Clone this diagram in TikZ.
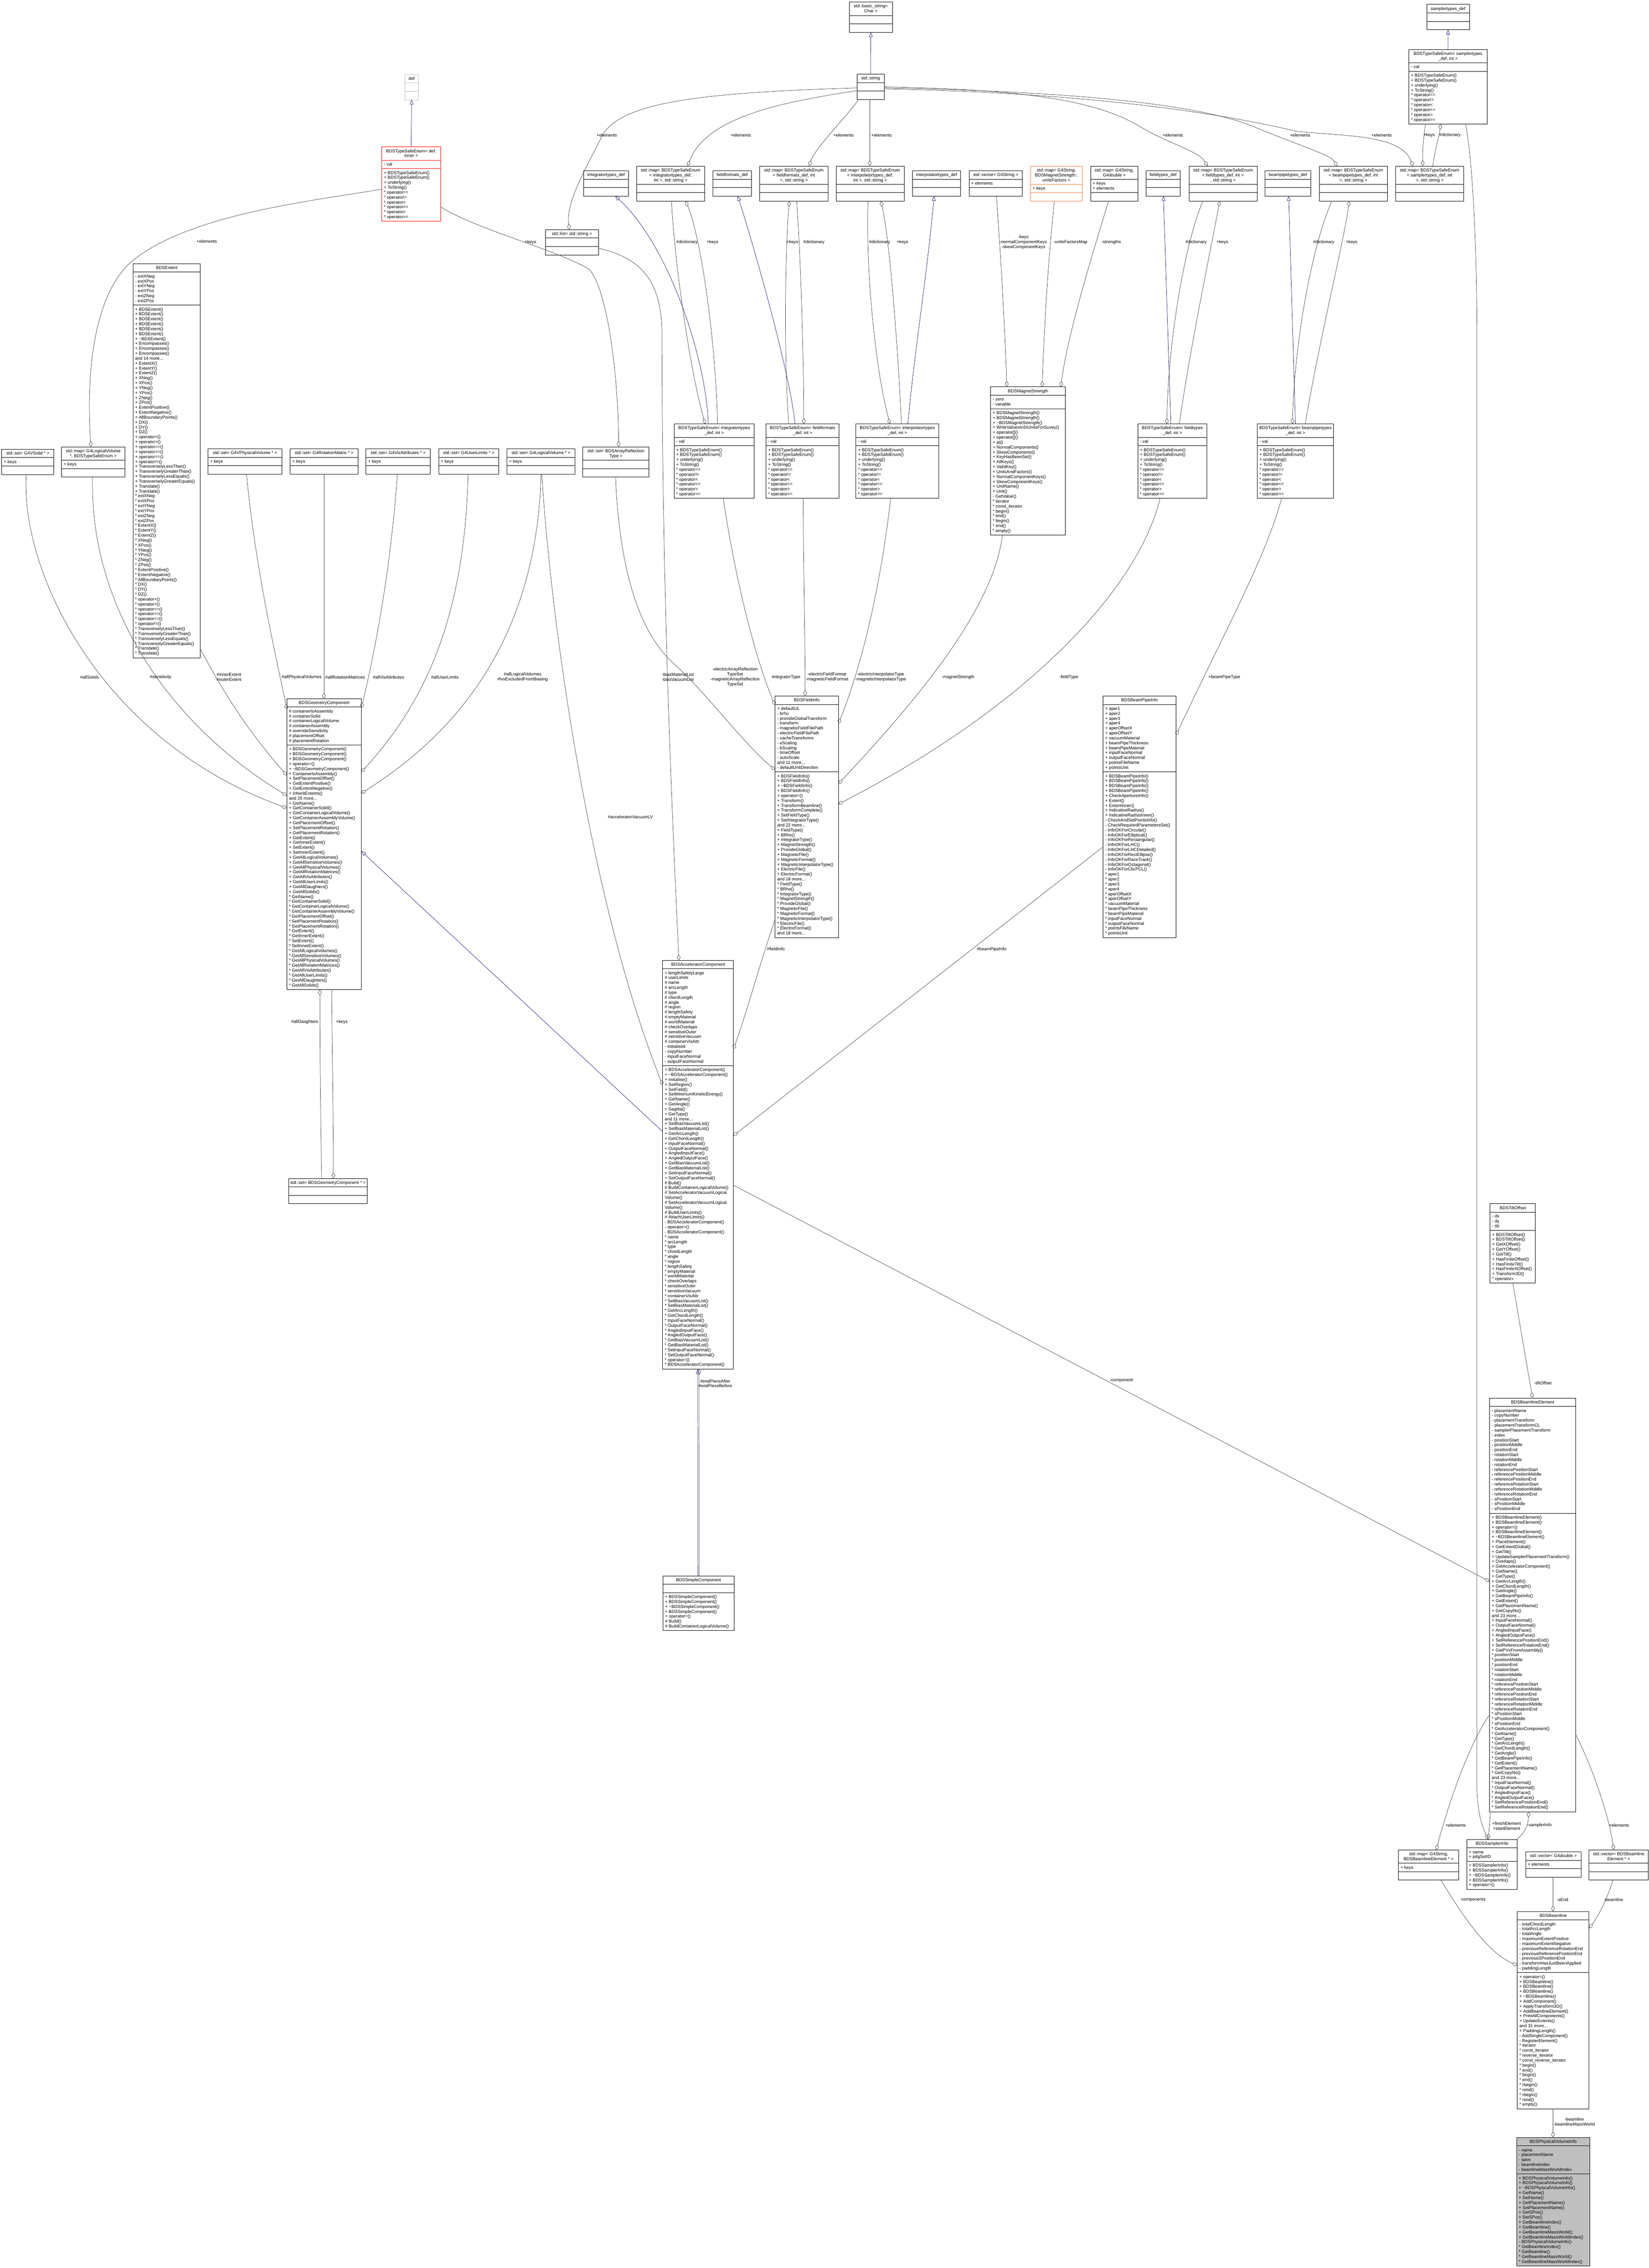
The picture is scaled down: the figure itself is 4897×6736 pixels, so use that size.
\documentclass[tikz,border=0pt]{standalone}
\usepackage{fontspec}
\setmainfont{Liberation Sans}
\usetikzlibrary{arrows.meta,calc}
\definecolor{edgegray}{HTML}{404040}
\definecolor{inhblue}{HTML}{191970}
\definecolor{graybox}{HTML}{BFBFBF}
\definecolor{orangebox}{HTML}{FF7A45}
\newcommand\clsfont{\fontsize{13}{14.6}\selectfont}
\newcommand\fstrut{\rule{0pt}{12pt}}
\def\parsecounts#1/#2/#3\relax{\def\nT{#1}\def\nA{#2}\def\nM{#3}}
\newcommand{\ucls}[9][]{%
  \parsecounts#6\relax
  \pgfmathsetmacro\hT{max(\nT,1)*14.6+10.5}%
  \pgfmathsetmacro\hA{max(\nA,1)*14.6+10.5}%
  \pgfmathsetmacro\hM{max(\nM,1)*14.6+10.5}%
  \pgfmathsetmacro\hTot{\hT+\hA+\hM}%
  \pgfmathsetmacro\hTA{\hT+\hA}%
  \node[clsbox,#1,minimum width=#5pt,minimum height=\hTot pt,anchor=north west] (#2) at (#3,#4) {};
  \draw[clsline,#1] ($(#2.north west)+(0,\hT)$) -- ($(#2.north east)+(0,\hT)$);
  \draw[clsline,#1] ($(#2.north west)+(0,\hTA)$) -- ($(#2.north east)+(0,\hTA)$);
  \node[clstitle,anchor=north] (#2-t) at ($(#2.north)+(0,4.5)$) {\fstrut#7};
  \if\relax\detokenize{#8}\relax\else
    \node[clstext,anchor=north west] (#2-a) at ($(#2.north west)+(6,\hT+4.5)$) {\fstrut#8};\fi
  \if\relax\detokenize{#9}\relax\else
    \node[clstext,anchor=north west] (#2-m) at ($(#2.north west)+(6,\hTA+4.5)$) {\fstrut#9};\fi
}
\newcommand\tsem{+ BDSTypeSafeEnum()\\+ BDSTypeSafeEnum()\\+ underlying()\\+ ToString()\\{}* operator==\\{}* operator!=\\{}* operator<\\{}* operator<=\\{}* operator>\\{}* operator>=}
\newcommand\extm{+ BDSExtent()\\+ BDSExtent()\\+ BDSExtent()\\+ BDSExtent()\\+ BDSExtent()\\+ BDSExtent()\\+ \textasciitilde BDSExtent()\\+ Encompasses()\\+ Encompasses()\\+ Encompasses()\\and 14 more...\\+ ExtentX()\\+ ExtentY()\\+ ExtentZ()\\+ XNeg()\\+ XPos()\\+ YNeg()\\+ YPos()\\+ ZNeg()\\+ ZPos()\\+ ExtentPositive()\\+ ExtentNegative()\\+ AllBoundaryPoints()\\+ DX()\\+ DY()\\+ DZ()\\+ operator<()\\+ operator>()\\+ operator<=()\\+ operator>=()\\+ operator==()\\+ operator!=()\\+ TransverselyLessThan()\\+ TransverselyGreaterThan()\\+ TransverselyLessEquals()\\+ TransverselyGreaterEquals()\\+ Translate()\\+ Translate()\\{}* extXNeg\\{}* extXPos\\{}* extYNeg\\{}* extYPos\\{}* extZNeg\\{}* extZPos\\{}* ExtentX()\\{}* ExtentY()\\{}* ExtentZ()\\{}* XNeg()\\{}* XPos()\\{}* YNeg()\\{}* YPos()\\{}* ZNeg()\\{}* ZPos()\\{}* ExtentPositive()\\{}* ExtentNegative()\\{}* AllBoundaryPoints()\\{}* DX()\\{}* DY()\\{}* DZ()\\{}* operator<()\\{}* operator>()\\{}* operator<=()\\{}* operator>=()\\{}* operator==()\\{}* operator!=()\\{}* TransverselyLessThan()\\{}* TransverselyGreaterThan()\\{}* TransverselyLessEquals()\\{}* TransverselyGreaterEquals()\\{}* Translate()\\{}* Translate()}
\newcommand\magm{+ BDSMagnetStrength()\\+ BDSMagnetStrength()\\+ \textasciitilde BDSMagnetStrength()\\+ WriteValuesInSIUnitsForSuvey()\\+ operator[]()\\+ operator[]()\\+ at()\\+ NormalComponents()\\+ SkewComponents()\\+ KeyHasBeenSet()\\+ AllKeys()\\+ ValidKey()\\+ UnitsAndFactors()\\+ NormalComponentKeys()\\+ SkewComponentKeys()\\+ UnitName()\\+ Unit()\\- GetValue()\\{}* iterator\\{}* const\_iterator\\{}* begin()\\{}* end()\\{}* begin()\\{}* end()\\{}* empty()}
\newcommand\fia{+ defaultUL\\- brho\\- provideGlobalTransform\\- transform\\- magneticFieldFilePath\\- electricFieldFilePath\\- cacheTransforms\\- eScaling\\- bScaling\\- timeOffset\\- autoScale\\and 11 more...\\- defaultUnitDirection}
\newcommand\fim{+ BDSFieldInfo()\\+ BDSFieldInfo()\\+ \textasciitilde BDSFieldInfo()\\+ BDSFieldInfo()\\+ operator=()\\+ Transform()\\+ TransformBeamline()\\+ TransformComplete()\\+ SetFieldType()\\+ SetIntegratorType()\\and 22 more...\\+ FieldType()\\+ BRho()\\+ IntegratorType()\\+ MagnetStrength()\\+ ProvideGlobal()\\+ MagneticFile()\\+ MagneticFormat()\\+ MagneticInterpolatorType()\\+ ElectricFile()\\+ ElectricFormat()\\and 18 more...\\{}* FieldType()\\{}* BRho()\\{}* IntegratorType()\\{}* MagnetStrength()\\{}* ProvideGlobal()\\{}* MagneticFile()\\{}* MagneticFormat()\\{}* MagneticInterpolatorType()\\{}* ElectricFile()\\{}* ElectricFormat()\\and 18 more...}
\newcommand\acca{+ lengthSafetyLarge\\\# userLimits\\\# name\\\# arcLength\\\# type\\\# chordLength\\\# angle\\\# region\\\# lengthSafety\\\# emptyMaterial\\\# worldMaterial\\\# checkOverlaps\\\# sensitiveOuter\\\# sensitiveVacuum\\\# containerVisAttr\\- initialised\\- copyNumber\\- inputFaceNormal\\- outputFaceNormal}
\newcommand\accm{+ BDSAcceleratorComponent()\\+ \textasciitilde BDSAcceleratorComponent()\\+ Initialise()\\+ SetRegion()\\+ SetField()\\+ SetMinimumKineticEnergy()\\+ GetName()\\+ GetAngle()\\+ Sagitta()\\+ GetType()\\and 11 more...\\+ SetBiasVacuumList()\\+ SetBiasMaterialList()\\+ GetArcLength()\\+ GetChordLength()\\+ InputFaceNormal()\\+ OutputFaceNormal()\\+ AngledInputFace()\\+ AngledOutputFace()\\+ GetBiasVacuumList()\\+ GetBiasMaterialList()\\+ SetInputFaceNormal()\\+ SetOutputFaceNormal()\\\# Build()\\\# BuildContainerLogicalVolume()\\\# SetAcceleratorVacuumLogical\\Volume()\\\# SetAcceleratorVacuumLogical\\Volume()\\\# BuildUserLimits()\\\# AttachUserLimits()\\- BDSAcceleratorComponent()\\- operator=()\\- BDSAcceleratorComponent()\\{}* name\\{}* arcLength\\{}* type\\{}* chordLength\\{}* angle\\{}* region\\{}* lengthSafety\\{}* emptyMaterial\\{}* worldMaterial\\{}* checkOverlaps\\{}* sensitiveOuter\\{}* sensitiveVacuum\\{}* containerVisAttr\\{}* SetBiasVacuumList()\\{}* SetBiasMaterialList()\\{}* GetArcLength()\\{}* GetChordLength()\\{}* InputFaceNormal()\\{}* OutputFaceNormal()\\{}* AngledInputFace()\\{}* AngledOutputFace()\\{}* GetBiasVacuumList()\\{}* GetBiasMaterialList()\\{}* SetInputFaceNormal()\\{}* SetOutputFaceNormal()\\{}* operator=()\\{}* BDSAcceleratorComponent()}
\newcommand\bpia{+ aper1\\+ aper2\\+ aper3\\+ aper4\\+ aperOffsetX\\+ aperOffsetY\\+ vacuumMaterial\\+ beamPipeThickness\\+ beamPipeMaterial\\+ inputFaceNormal\\+ outputFaceNormal\\+ pointsFileName\\+ pointsUnit}
\newcommand\bpim{+ BDSBeamPipeInfo()\\+ BDSBeamPipeInfo()\\+ BDSBeamPipeInfo()\\+ BDSBeamPipeInfo()\\+ CheckApertureInfo()\\+ Extent()\\+ ExtentInner()\\+ IndicativeRadius()\\+ IndicativeRadiusInner()\\- CheckAndSetPointsInfo()\\- CheckRequiredParametersSet()\\- InfoOKForCircular()\\- InfoOKForElliptical()\\- InfoOKForRectangular()\\- InfoOKForLHC()\\- InfoOKForLHCDetailed()\\- InfoOKForRectEllipse()\\- InfoOKForRaceTrack()\\- InfoOKForOctagonal()\\- InfoOKForClicPCL()\\{}* aper1\\{}* aper2\\{}* aper3\\{}* aper4\\{}* aperOffsetX\\{}* aperOffsetY\\{}* vacuumMaterial\\{}* beamPipeThickness\\{}* beamPipeMaterial\\{}* inputFaceNormal\\{}* outputFaceNormal\\{}* pointsFileName\\{}* pointsUnit}
\newcommand\geoa{\# containerIsAssembly\\\# containerSolid\\\# containerLogicalVolume\\\# containerAssembly\\\# overrideSensitivity\\\# placementOffset\\\# placementRotation}
\newcommand\geom{+ BDSGeometryComponent()\\+ BDSGeometryComponent()\\+ BDSGeometryComponent()\\+ operator=()\\+ \textasciitilde BDSGeometryComponent()\\+ ContainerIsAssembly()\\+ SetPlacementOffset()\\+ GetExtentPositive()\\+ GetExtentNegative()\\+ InheritExtents()\\and 25 more...\\+ GetName()\\+ GetContainerSolid()\\+ GetContainerLogicalVolume()\\+ GetContainerAssemblyVolume()\\+ GetPlacementOffset()\\+ SetPlacementRotation()\\+ GetPlacementRotation()\\+ GetExtent()\\+ GetInnerExtent()\\+ SetExtent()\\+ SetInnerExtent()\\+ GetAllLogicalVolumes()\\+ GetAllSensitiveVolumes()\\+ GetAllPhysicalVolumes()\\+ GetAllRotationMatrices()\\+ GetAllVisAttributes()\\+ GetAllUserLimits()\\+ GetAllDaughters()\\+ GetAllSolids()\\{}* GetName()\\{}* GetContainerSolid()\\{}* GetContainerLogicalVolume()\\{}* GetContainerAssemblyVolume()\\{}* GetPlacementOffset()\\{}* SetPlacementRotation()\\{}* GetPlacementRotation()\\{}* GetExtent()\\{}* GetInnerExtent()\\{}* SetExtent()\\{}* SetInnerExtent()\\{}* GetAllLogicalVolumes()\\{}* GetAllSensitiveVolumes()\\{}* GetAllPhysicalVolumes()\\{}* GetAllRotationMatrices()\\{}* GetAllVisAttributes()\\{}* GetAllUserLimits()\\{}* GetAllDaughters()\\{}* GetAllSolids()}
\newcommand\blea{- placementName\\- copyNumber\\- placementTransform\\- placementTransformCL\\- samplerPlacementTransform\\- index\\- positionStart\\- positionMiddle\\- positionEnd\\- rotationStart\\- rotationMiddle\\- rotationEnd\\- referencePositionStart\\- referencePositionMiddle\\- referencePositionEnd\\- referenceRotationStart\\- referenceRotationMiddle\\- referenceRotationEnd\\- sPositionStart\\- sPositionMiddle\\- sPositionEnd}
\newcommand\blem{+ BDSBeamlineElement()\\+ BDSBeamlineElement()\\+ operator=()\\+ BDSBeamlineElement()\\+ \textasciitilde BDSBeamlineElement()\\+ PlaceElement()\\+ GetExtentGlobal()\\+ GetTilt()\\+ UpdateSamplerPlacementTransform()\\+ Overlaps()\\+ GetAcceleratorComponent()\\+ GetName()\\+ GetType()\\+ GetArcLength()\\+ GetChordLength()\\+ GetAngle()\\+ GetBeamPipeInfo()\\+ GetExtent()\\+ GetPlacementName()\\+ GetCopyNo()\\and 23 more...\\+ InputFaceNormal()\\+ OutputFaceNormal()\\+ AngledInputFace()\\+ AngledOutputFace()\\+ SetReferencePositionEnd()\\+ SetReferenceRotationEnd()\\+ GetPVsFromAssembly()\\{}* positionStart\\{}* positionMiddle\\{}* positionEnd\\{}* rotationStart\\{}* rotationMiddle\\{}* rotationEnd\\{}* referencePositionStart\\{}* referencePositionMiddle\\{}* referencePositionEnd\\{}* referenceRotationStart\\{}* referenceRotationMiddle\\{}* referenceRotationEnd\\{}* sPositionStart\\{}* sPositionMiddle\\{}* sPositionEnd\\{}* GetAcceleratorComponent()\\{}* GetName()\\{}* GetType()\\{}* GetArcLength()\\{}* GetChordLength()\\{}* GetAngle()\\{}* GetBeamPipeInfo()\\{}* GetExtent()\\{}* GetPlacementName()\\{}* GetCopyNo()\\and 23 more...\\{}* InputFaceNormal()\\{}* OutputFaceNormal()\\{}* AngledInputFace()\\{}* AngledOutputFace()\\{}* SetReferencePositionEnd()\\{}* SetReferenceRotationEnd()}
\newcommand\bla{- totalChordLength\\- totalArcLength\\- totalAngle\\- maximumExtentPositive\\- maximumExtentNegative\\- previousReferenceRotationEnd\\- previousReferencePositionEnd\\- previousSPositionEnd\\- transformHasJustBeenApplied\\- paddingLength}
\newcommand\blm{+ operator=()\\+ BDSBeamline()\\+ BDSBeamline()\\+ BDSBeamline()\\+ \textasciitilde BDSBeamline()\\+ AddComponent()\\+ ApplyTransform3D()\\+ AddBeamlineElement()\\+ PrintAllComponents()\\+ UpdateExtents()\\and 31 more...\\+ PaddingLength()\\- AddSingleComponent()\\- RegisterElement()\\{}* iterator\\{}* const\_iterator\\{}* reverse\_iterator\\{}* const\_reverse\_iterator\\{}* begin()\\{}* end()\\{}* begin()\\{}* end()\\{}* rbegin()\\{}* rend()\\{}* rbegin()\\{}* rend()\\{}* empty()}
\newcommand\pvim{+ BDSPhysicalVolumeInfo()\\+ BDSPhysicalVolumeInfo()\\+ \textasciitilde BDSPhysicalVolumeInfo()\\+ GetName()\\+ SetName()\\+ GetPlacementName()\\+ SetPlacementName()\\+ GetSPos()\\+ SetSPos()\\+ GetBeamlineIndex()\\+ GetBeamline()\\+ GetBeamlineMassWorld()\\+ GetBeamlineMassWorldIndex()\\- BDSPhysicalVolumeInfo()\\{}* GetBeamlineIndex()\\{}* GetBeamline()\\{}* GetBeamlineMassWorld()\\{}* GetBeamlineMassWorldIndex()}
\begin{document}
\begin{tikzpicture}[x=1pt,y=-1pt,
  clsbox/.style={draw=black,line width=1.1pt,inner sep=0pt,outer sep=0pt},
  clsline/.style={draw=black,line width=1.1pt},
  clstitle/.style={font=\clsfont,align=center,inner sep=0pt},
  clstext/.style={font=\clsfont,align=left,inner sep=0pt},
  lbl/.style={font=\clsfont,align=center,inner sep=0pt},
  agg/.style={draw=edgegray,line width=1pt,-{Diamond[open,length=17pt,width=11pt]}},
  inh/.style={draw=inhblue,line width=1pt,-{Triangle[open,length=14pt,width=11pt]}}]
\useasboundingbox (0,0) rectangle (4897,6736);
\fill[white] (0,0) rectangle (4897,6736);
% ---------------- top rows
\ucls{bstr}{2522}{6}{128}{2/0/0}{std::basic\_string<\\Char >}{}{}
\ucls{str}{2545}{220}{81}{1/0/0}{std::string}{}{}
\ucls{sdef}{4237}{13}{127}{1/0/0}{samplertypes\_def}{}{}
\ucls{tsSampler}{4184}{147}{232}{2/1/10}{BDSTypeSafeEnum< samplertypes\\\_def, int >}{- val}{\tsem}
\ucls[draw=graybox]{def}{1202}{221}{41}{1/0/0}{def}{}{}
\ucls[draw=red]{tsDef}{1134}{436}{174}{2/1/10}{BDSTypeSafeEnum< def,\\inner >}{- val}{\tsem}
\ucls{slist}{1620}{682}{157}{1/0/0}{std::list< std::string >}{}{}
\ucls{intdef}{1733}{507}{134}{1/0/0}{integratortypes\_def}{}{}
\ucls{mapInt}{1890}{493}{203}{3/0/0}{std::map< BDSTypeSafeEnum\\< integratortypes\_def,\\int >, std::string >}{}{}
\ucls{ffdef}{2117}{507}{115}{1/0/0}{fieldformats\_def}{}{}
\ucls{mapFF}{2256}{493}{203}{3/0/0}{std::map< BDSTypeSafeEnum\\< fieldformats\_def, int\\>, std::string >}{}{}
\ucls{mapInterp}{2483}{493}{202}{3/0/0}{std::map< BDSTypeSafeEnum\\< interpolatortypes\_def,\\int >, std::string >}{}{}
\ucls{interpdef}{2710}{507}{143}{1/0/0}{interpolatortypes\_def}{}{}
\ucls{vecStr}{2878}{507}{158}{1/1/0}{std::vector< G4String >}{+ elements}{}
\ucls[draw=orangebox]{mapUnits}{3060}{493}{154}{3/1/0}{std::map< G4String,\\BDSMagnetStrength::\\unitsFactors >}{+ keys}{}
\ucls{mapDbl}{3239}{493}{140}{2/2/0}{std::map< G4String,\\G4double >}{+ keys\\+ elements}{}
\ucls{ftdef}{3403}{507}{102}{1/0/0}{fieldtypes\_def}{}{}
\ucls{mapFT}{3531}{493}{202}{3/0/0}{std::map< BDSTypeSafeEnum\\< fieldtypes\_def, int >\\, std::string >}{}{}
\ucls{bpdef}{3757}{507}{135}{1/0/0}{beampipetypes\_def}{}{}
\ucls{mapBP}{3918}{493}{202}{3/0/0}{std::map< BDSTypeSafeEnum\\< beampipetypes\_def, int\\>, std::string >}{}{}
\ucls{mapSampler}{4144}{493}{203}{3/0/0}{std::map< BDSTypeSafeEnum\\< samplertypes\_def, int\\>, std::string >}{}{}
% ---------------- third row
\ucls{tsInt}{2002}{1259}{238}{2/1/10}{BDSTypeSafeEnum< integratortypes\\\_def, int >}{- val}{\tsem}
\ucls{tsFF}{2275}{1259}{217}{2/1/10}{BDSTypeSafeEnum< fieldformats\\\_def, int >}{- val}{\tsem}
\ucls{tsInterp}{2542}{1259}{246}{2/1/10}{BDSTypeSafeEnum< interpolatortypes\\\_def, int >}{- val}{\tsem}
\ucls{mag}{2942}{1149}{222}{1/2/25}{BDSMagnetStrength}{- zero\\- variable}{\magm}
\ucls{tsFT}{3379}{1259}{205}{2/1/10}{BDSTypeSafeEnum< fieldtypes\\\_def, int >}{- val}{\tsem}
\ucls{tsBP}{3734}{1259}{226}{2/1/10}{BDSTypeSafeEnum< beampipetypes\\\_def, int >}{- val}{\tsem}
% ---------------- left sets
\ucls{setSolid}{5}{1334}{155}{1/1/0}{std::set< G4VSolid * >}{+ keys}{}
\ucls{mapLV}{183}{1327}{188}{2/1/0}{std::map< G4LogicalVolume\\{}*, BDSTypeSafeEnum >}{+ keys}{}
\ucls{ext}{395}{783}{200}{1/6/71}{BDSExtent}{- extXNeg\\- extXPos\\- extYNeg\\- extYPos\\- extZNeg\\- extZPos}{\extm}
\ucls{setPV}{618}{1333}{219}{1/1/0}{std::set< G4VPhysicalVolume * >}{+ keys}{}
\ucls{setRot}{862}{1333}{201}{1/1/0}{std::set< G4RotationMatrix * >}{+ keys}{}
\ucls{setVis}{1087}{1333}{191}{1/1/0}{std::set< G4VisAttributes * >}{+ keys}{}
\ucls{setUL}{1303}{1333}{178}{1/1/0}{std::set< G4UserLimits * >}{+ keys}{}
\ucls{setLV}{1506}{1333}{201}{1/1/0}{std::set< G4LogicalVolume * >}{+ keys}{}
\ucls{setART}{1731}{1327}{196}{2/0/0}{std::set< BDSArrayReflection\\Type >}{}{}
% ---------------- main classes
\ucls{geo}{852}{2075}{221}{1/7/49}{BDSGeometryComponent}{\geoa}{\geom}
\ucls{setGeo}{858}{3500}{232}{1/0/0}{std::set< BDSGeometryComponent * >}{}{}
\ucls{acc}{1968}{2852}{210}{1/19/61}{BDSAcceleratorComponent}{\acca}{\accm}
\ucls{simple}{1969}{4680}{211}{1/0/7}{BDSSimpleComponent}{}{+ BDSSimpleComponent()\\+ BDSSimpleComponent()\\+ \textasciitilde BDSSimpleComponent()\\+ BDSSimpleComponent()\\+ operator=()\\\# Build()\\\# BuildContainerLogicalVolume()}
\ucls{fi}{2302}{2067}{188}{1/13/33}{BDSFieldInfo}{\fia}{\fim}
\ucls{bpi}{3276}{2067}{216}{1/13/33}{BDSBeamPipeInfo}{\bpia}{\bpim}
\ucls{tilt}{4425}{3575}{135}{1/3/10}{BDSTiltOffset}{- dx\\- dy\\- tilt}{+ BDSTiltOffset()\\+ BDSTiltOffset()\\+ GetXOffset()\\+ GetYOffset()\\+ GetTilt()\\+ HasFiniteOffset()\\+ HasFiniteTilt()\\+ HasFiniteXOffset()\\+ Transform3D()\\{}* operator<<}
\ucls{ble}{4424}{4152}{255}{1/21/60}{BDSBeamlineElement}{\blea}{\blem}
\ucls{mapBLE}{4153}{5494}{179}{2/1/0}{std::map< G4String,\\BDSBeamlineElement * >}{+ keys}{}
\ucls{si}{4356}{5463}{150}{1/2/5}{BDSSamplerInfo}{+ name\\+ pdgSetID}{+ BDSSamplerInfo()\\+ BDSSamplerInfo()\\+ \textasciitilde BDSSamplerInfo()\\+ BDSSamplerInfo()\\+ operator=()}
\ucls{vecDbl}{4531}{5500}{164}{1/1/0}{std::vector< G4double >}{+ elements}{}
\ucls{vecBLE}{4719}{5494}{176}{2/0/0}{std::vector< BDSBeamline\\Element * >}{}{}
\ucls{bl}{4506}{5677}{213}{1/10/27}{BDSBeamline}{\bla}{\blm}
\ucls[fill=graybox]{pvi}{4504}{6348}{217}{1/5/18}{BDSPhysicalVolumeInfo}{- name\\- placementName\\- spos\\- beamlineIndex\\- beamlineMassWorldIndex}{\pvim}
% ---------------- inheritance
\draw[inh] (str.north) -- (bstr.south);
\draw[inh] (tsDef.north) -- (def.south);
\draw[inh] (tsSampler.north) -- (sdef.south);
\draw[inh] ($(tsInt.north west)+(101,0)$) .. controls (2100,1080) and (1990,730) .. ($(intdef.south west)+(94,0)$);
\draw[inh] ($(tsFF.north west)+(86,0)$) .. controls (2345,1100) and (2235,720) .. ($(ffdef.south west)+(74,0)$);
\draw[inh] ($(tsInterp.north west)+(154,0)$) .. controls (2715,1050) and (2755,800) .. ($(interpdef.south west)+(64,0)$);
\draw[inh] ($(tsFT.north west)+(98,0)$) -- ($(ftdef.south west)+(52,0)$);
\draw[inh] ($(tsBP.north west)+(113,0)$) -- ($(bpdef.south west)+(70,0)$);
\draw[inh] ($(acc.north west)+(0,509)$) -- ($(geo.north east)+(0,453)$);
\draw[inh] ($(simple.north)+(-2,0)$) -- ($(acc.south)+(-1,0)$);
% ---------------- aggregation: top
\draw[agg] ($(str.north west)+(0,41)$) .. controls (2100,275) and (1850,300) .. (1790,400) .. controls (1740,500) and (1680,600) .. ($(slist.north west)+(71,0)$);
\draw[agg] ($(str.north west)+(0,49)$) .. controls (2350,300) and (2100,340) .. ($(mapInt.north west)+(152,0)$);
\draw[agg] ($(str.south west)+(5,0)$) .. controls (2520,340) and (2420,440) .. ($(mapFF.north west)+(147,0)$);
\draw[agg] ($(str.south west)+(38,0)$) -- ($(mapInterp.north west)+(100,0)$);
\draw[agg] ($(str.north east)+(0,38)$) .. controls (3000,265) and (3250,290) .. (3392,380) .. controls (3480,430) and (3560,450) .. ($(mapFT.north west)+(55,0)$);
\draw[agg] ($(str.north east)+(0,41)$) .. controls (3100,270) and (3550,300) .. (3732,380) .. controls (3880,440) and (3950,460) .. ($(mapBP.north west)+(53,0)$);
\draw[agg] ($(str.north east)+(0,44)$) .. controls (3200,275) and (3600,330) .. (3850,390) .. controls (4000,405) and (4160,400) .. ($(mapSampler.north west)+(52,0)$);
\draw[agg] ($(tsDef.north west)+(0,126)$) .. controls (900,600) and (560,640) .. (394,774) .. controls (280,870) and (255,1100) .. ($(mapLV.north west)+(87,0)$);
\draw[agg] ($(tsDef.north east)+(0,178)$) .. controls (1420,684) and (1650,740) .. (1750,800) .. controls (1810,870) and (1837,1150) .. ($(setART.north west)+(106,0)$);
\draw[agg] ($(mapInt.south west)+(104,0)$) .. controls (2005,800) and (2050,1100) .. ($(tsInt.north west)+(92,0)$);
\draw[agg] ($(tsInt.north west)+(129,0)$) .. controls (2125,1000) and (2080,700) .. ($(mapInt.south west)+(146,0)$);
\draw[agg] ($(mapFF.south west)+(110,0)$) .. controls (2380,800) and (2387,1100) .. ($(tsFF.north west)+(112,0)$);
\draw[agg] ($(tsFF.north west)+(67,0)$) .. controls (2325,1000) and (2335,700) .. ($(mapFF.south west)+(88,0)$);
\draw[agg] ($(mapInterp.south west)+(95,0)$) .. controls (2570,800) and (2600,1100) .. ($(tsInterp.north west)+(101,0)$);
\draw[agg] ($(tsInterp.north west)+(135,0)$) .. controls (2665,1000) and (2640,700) .. ($(mapInterp.south west)+(133,0)$);
\draw[agg] ($(mapFT.south west)+(41,0)$) .. controls (3520,720) and (3470,1000) .. ($(tsFT.north west)+(86,0)$);
\draw[agg] ($(tsFT.north west)+(123,0)$) .. controls (3540,1000) and (3600,720) .. ($(mapFT.south west)+(91,0)$);
\draw[agg] ($(mapBP.south west)+(37,0)$) .. controls (3900,720) and (3845,1000) .. ($(tsBP.north west)+(104,0)$);
\draw[agg] ($(tsBP.north west)+(142,0)$) .. controls (3920,1000) and (3990,720) .. ($(mapBP.south west)+(89,0)$);
\draw[agg] ($(tsSampler.south west)+(50,0)$) .. controls (4225,420) and (4225,450) .. ($(mapSampler.north west)+(81,0)$);
\draw[agg] ($(mapSampler.north west)+(111,0)$) .. controls (4262,440) and (4275,400) .. ($(tsSampler.south west)+(94,0)$);
\draw[agg] ($(vecStr.south west)+(81,0)$) .. controls (2975,800) and (2985,1000) .. ($(mag.north west)+(48,0)$);
\draw[agg] ($(mapUnits.south west)+(71,0)$) .. controls (3110,800) and (3100,1000) .. ($(mag.north west)+(153,0)$);
\draw[agg] ($(mapDbl.south west)+(53,0)$) .. controls (3230,800) and (3170,1000) .. ($(mag.north west)+(208,0)$);
% ---------------- aggregation: field info
\draw[agg] ($(tsInt.south west)+(146,0)$) .. controls (2180,1700) and (2240,1950) .. ($(fi.north west)+(0,28)$);
\draw[agg] ($(tsFF.south west)+(110,0)$) .. controls (2386,1700) and (2391,1900) .. ($(fi.north west)+(89,0)$);
\draw[agg] ($(tsInterp.south west)+(103,0)$) .. controls (2620,1700) and (2570,1950) .. ($(fi.north east)+(0,82)$);
\draw[agg] ($(mag.south west)+(35,0)$) .. controls (2950,1800) and (2750,2050) .. ($(fi.north east)+(0,261)$);
\draw[agg] ($(tsFT.south west)+(66,0)$) .. controls (3380,1750) and (3050,2100) .. ($(fi.north east)+(0,321)$);
\draw[agg] ($(setART.south west)+(97,0)$) .. controls (1840,1700) and (1900,1880) .. (2000,1970) .. controls (2100,2060) and (2200,2200) .. ($(fi.north west)+(0,220)$);
\draw[agg] ($(slist.north east)+(0,55)$) .. controls (1920,770) and (1966,850) .. (1966,1000) .. controls (1966,1800) and (2000,2500) .. ($(acc.north west)+(48,0)$);
\draw[agg] ($(setLV.south west)+(103,0)$) .. controls (1640,1900) and (1760,2700) .. ($(acc.north west)+(0,371)$);
\draw[agg] ($(fi.north west)+(0,663)$) .. controls (2260,2850) and (2220,3000) .. ($(acc.north east)+(0,264)$);
\draw[agg] ($(bpi.north west)+(0,448)$) -- ($(acc.north east)+(0,521)$);
\draw[agg] ($(tsBP.south west)+(72,0)$) .. controls (3760,1650) and (3650,1850) .. ($(bpi.north east)+(0,117)$);
% ---------------- aggregation: geometry component
\draw[agg] ($(setSolid.south west)+(73,0)$) .. controls (60,1700) and (300,2200) .. ($(geo.north west)+(0,325)$);
\draw[agg] ($(mapLV.south west)+(92,0)$) .. controls (265,1800) and (500,2150) .. ($(geo.north west)+(0,288)$);
\draw[agg] ($(ext.south east)+(0,-25)$) .. controls (630,1990) and (700,2130) .. ($(geo.north west)+(0,228)$);
\draw[agg] ($(setPV.south west)+(114,0)$) .. controls (760,1700) and (820,1950) .. ($(geo.north west)+(0,32)$);
\draw[agg] ($(setRot.south west)+(100,0)$) -- ($(geo.north west)+(110,0)$);
\draw[agg] ($(setVis.south west)+(93,0)$) .. controls (1160,1700) and (1110,1950) .. ($(geo.north east)+(0,28)$);
\draw[agg] ($(setUL.south west)+(87,0)$) .. controls (1380,1850) and (1250,2100) .. ($(geo.north east)+(0,218)$);
\draw[agg] ($(setLV.south west)+(101,0)$) .. controls (1595,1850) and (1400,2150) .. ($(geo.north east)+(0,281)$);
\draw[agg] ($(setGeo.north west)+(97,0)$) .. controls (952,3300) and (950,3100) .. ($(geo.south west)+(98,0)$);
\draw[agg] ($(geo.south west)+(133,0)$) .. controls (986,3100) and (990,3300) .. ($(setGeo.north west)+(132,0)$);
\draw[agg] ($(simple.north)+(2,0)$) -- ($(acc.south)+(3,0)$);
% ---------------- aggregation: beamline
\draw[agg] ($(acc.north east)+(0,668)$) -- ($(ble.north west)+(0,545)$);
\draw[agg] (tilt.south) -- ($(ble.north west)+(127,0)$);
\draw[agg] ($(tsSampler.south west)+(168,0)$) .. controls (4370,450) and (4386,700) .. (4386,1000) -- (4386,5300) .. controls (4386,5400) and (4410,5440) .. ($(si.north west)+(62,0)$);
\draw[agg] ($(ble.south west)+(2,0)$) .. controls (4424,5420) and (4421,5445) .. ($(si.north west)+(64,0)$);
\draw[agg] ($(si.north east)+(-1,0)$) .. controls (4530,5440) and (4538,5420) .. ($(ble.south west)+(116,0)$);
\draw[agg] ($(ble.north west)+(0,940)$) .. controls (4350,5200) and (4290,5400) .. ($(mapBLE.north west)+(112,0)$);
\draw[agg] ($(ble.north east)+(0,999)$) .. controls (4730,5250) and (4780,5400) .. ($(vecBLE.north west)+(73,0)$);
\draw[agg] ($(mapBLE.south west)+(126,0)$) .. controls (4350,5700) and (4420,5800) .. ($(bl.north west)+(0,160)$);
\draw[agg] ($(vecDbl.south west)+(81,0)$) -- ($(bl.north west)+(106,0)$);
\draw[agg] ($(vecBLE.south west)+(71,0)$) .. controls (4770,5650) and (4740,5700) .. ($(bl.north east)+(0,50)$);
\draw[agg] ($(bl.south west)+(106,0)$) -- ($(pvi.north west)+(108,0)$);
% ---------------- labels
\node[lbl] (l1) at (1802,401) {+elements};
\node[lbl] (l2) at (2200,401) {+elements};
\node[lbl] (l3) at (2505,401) {+elements};
\node[lbl] (l4) at (2618,401) {+elements};
\node[lbl] (l5) at (3483,401) {+elements};
\node[lbl] (l6) at (3861,401) {+elements};
\node[lbl] (l7) at (4103,401) {+elements};
\node[lbl] (l8) at (614,717) {+elements};
\node[lbl] (l9) at (2040,719) {\#dictionary};
\node[lbl] (l10) at (2116,719) {+keys};
\node[lbl] (l11) at (2417,719) {\#dictionary};
\node[lbl] (l12) at (2353,719) {+keys};
\node[lbl] (l13) at (2612,719) {\#dictionary};
\node[lbl] (l14) at (2680,719) {+keys};
\node[lbl] (l15) at (3552,719) {\#dictionary};
\node[lbl] (l16) at (3630,719) {+keys};
\node[lbl] (l17) at (3931,719) {\#dictionary};
\node[lbl] (l18) at (4014,719) {+keys};
\node[lbl] (l19) at (4244,401) {+keys};
\node[lbl] (l20) at (4306,401) {\#dictionary};
\node[lbl] (l21) at (3039,719) {-keys\\-normalComponentKeys\\-skewComponentKeys};
\node[lbl] (l22) at (3179,719) {-unitsFactorsMap};
\node[lbl] (l23) at (3300,719) {-strengths};
\node[lbl] (l55) at (1575,719) {+keys};
\node[lbl] (l24) at (266,2011) {\#allSolids};
\node[lbl] (l25) at (477,2011) {\#sensitivity};
\node[lbl] (l26) at (680,2011) {\#innerExtent\\\#outerExtent};
\node[lbl] (l27) at (896,2011) {\#allPhysicalVolumes};
\node[lbl] (l28) at (1025,2011) {\#allRotationMatrices};
\node[lbl] (l29) at (1154,2011) {\#allVisAttributes};
\node[lbl] (l30) at (1321,2011) {\#allUserLimits};
\node[lbl] (l31) at (1552,2011) {\#allLogicalVolumes\\\#lvsExcludedFromBiasing};
\node[lbl] (l32) at (2013,2011) {-biasMaterialList\\-biasVacuumList};
\node[lbl] (l33) at (2183,2011) {-electricArrayReflection\\TypeSet\\-magneticArrayReflection\\TypeSet};
\node[lbl] (l34) at (2333,2012) {-integratorType};
\node[lbl] (l35) at (2456,2011) {-electricFieldFormat\\-magneticFieldFormat};
\node[lbl] (l36) at (2615,2011) {-electricInterpolatorType\\-magneticInterpolatorType};
\node[lbl] (l37) at (2845,2012) {-magnetStrength};
\node[lbl] (l38) at (3174,2012) {-fieldType};
\node[lbl] (l39) at (3636,2012) {+beamPipeType};
\node[lbl] (l40) at (2304,2819) {\#fieldInfo};
\node[lbl] (l56) at (2945,2819) {\#beamPipeInfo};
\node[lbl] (l41) at (1872,2427) {\#acceleratorVacuumLV};
\node[lbl] (l42) at (2124,4109) {\#endPieceAfter\\\#endPieceBefore};
\node[lbl] (l43) at (3330,4100) {-component};
\node[lbl] (l44) at (4582,4108) {-tiltOffset};
\node[lbl] (l45) at (4323,5421) {+elements};
\node[lbl] (l46) at (4474,5423) {+finishElement\\+startElement};
\node[lbl] (l47) at (4572,5421) {-samplerInfo};
\node[lbl] (l48) at (4808,5421) {+elements};
\node[lbl] (l49) at (4374,5642) {-components};
\node[lbl] (l50) at (4640,5642) {-sEnd};
\node[lbl] (l51) at (4792,5642) {-beamline};
\node[lbl] (l52) at (4675,6301) {-beamline\\-beamlineMassWorld};
\node[lbl] (l53) at (905,3035) {\#allDaughters};
\node[lbl] (l54) at (1015,3035) {+keys};
\end{tikzpicture}
\end{document}
